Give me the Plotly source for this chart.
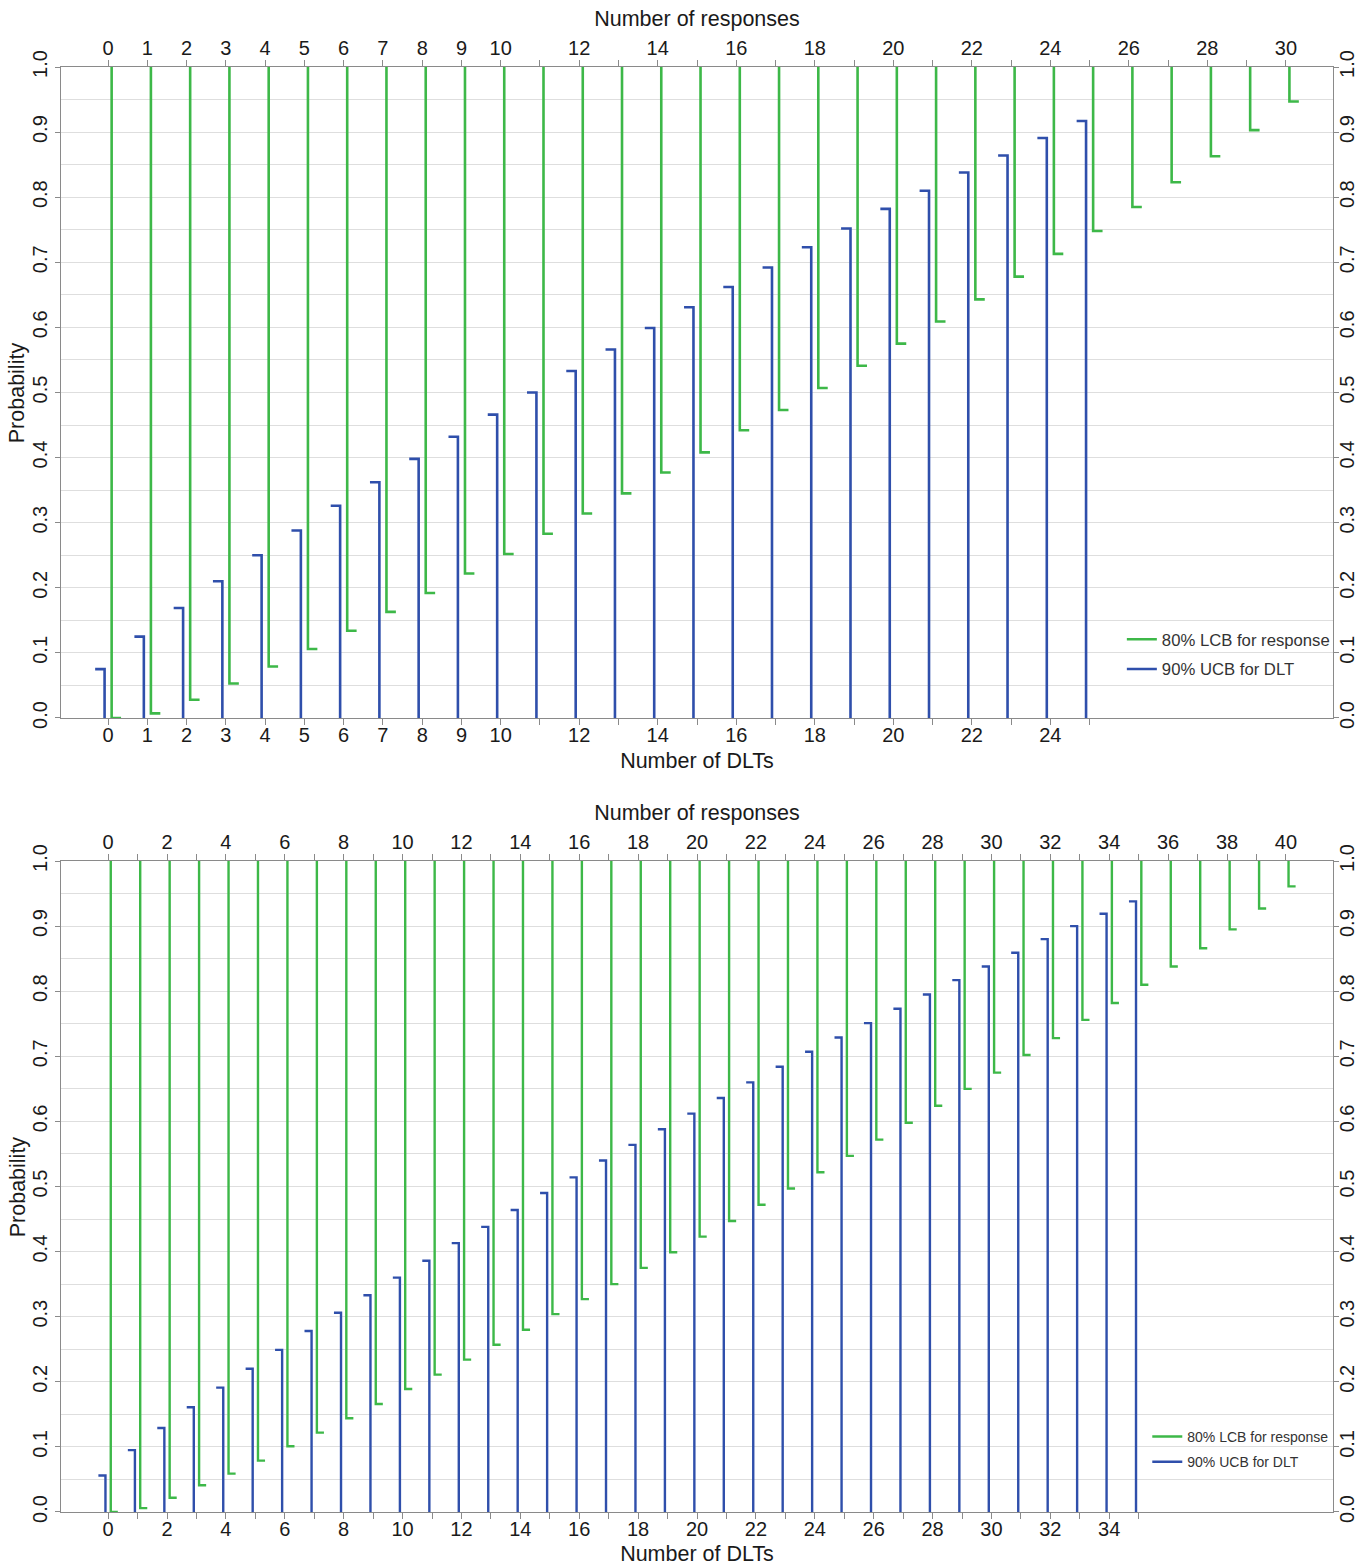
import plotly.graph_objects as go

# ---------------- data ----------------
# Panel 1: n = 30
dlt_counts_1 = list(range(0, 26))
ucb_dlt_1 = [0.075, 0.125, 0.169, 0.210, 0.250, 0.288, 0.326, 0.362, 0.398, 0.432,
             0.466, 0.500, 0.533, 0.566, 0.599, 0.631, 0.662, 0.692, 0.723, 0.752,
             0.782, 0.810, 0.838, 0.864, 0.891, 0.917]
resp_counts_1 = list(range(0, 31))
lcb_resp_1 = [0.000, 0.007, 0.028, 0.053, 0.079, 0.106, 0.134, 0.163, 0.192, 0.222,
              0.252, 0.283, 0.314, 0.345, 0.377, 0.408, 0.442, 0.473, 0.507, 0.541,
              0.575, 0.609, 0.643, 0.678, 0.713, 0.748, 0.785, 0.823, 0.863, 0.903,
              0.947]

# Panel 2: n = 40
dlt_counts_2 = list(range(0, 36))
ucb_dlt_2 = [0.056, 0.095, 0.129, 0.161, 0.191, 0.220, 0.249, 0.278, 0.306, 0.333,
             0.360, 0.386, 0.413, 0.438, 0.464, 0.490, 0.514, 0.540, 0.564, 0.588,
             0.612, 0.636, 0.660, 0.684, 0.707, 0.729, 0.751, 0.773, 0.795, 0.817,
             0.838, 0.859, 0.880, 0.900, 0.919, 0.938]
resp_counts_2 = list(range(0, 41))
lcb_resp_2 = [0.000, 0.006, 0.022, 0.041, 0.059, 0.079, 0.101, 0.122, 0.144, 0.166,
              0.189, 0.211, 0.234, 0.257, 0.280, 0.304, 0.327, 0.350, 0.375, 0.399,
              0.423, 0.447, 0.472, 0.497, 0.522, 0.547, 0.572, 0.598, 0.624, 0.650,
              0.675, 0.702, 0.728, 0.756, 0.782, 0.810, 0.838, 0.866, 0.895, 0.927,
              0.961]

# tick labels
dlt_ticktext_1 = ["0", "1", "2", "3", "4", "5", "6", "7", "8", "9", "10", "", "12", "",
                  "14", "", "16", "", "18", "", "20", "", "22", "", "24", ""]
resp_ticktext_1 = ["0", "1", "2", "3", "4", "5", "6", "7", "8", "9", "10", "", "12", "",
                   "14", "", "16", "", "18", "", "20", "", "22", "", "24", "", "26", "",
                   "28", "", "30"]
dlt_ticktext_2 = [str(i) if i % 2 == 0 else "" for i in range(0, 36)]
resp_ticktext_2 = [str(i) if i % 2 == 0 else "" for i in range(0, 41)]
y_ticks = [0.0, 0.1, 0.2, 0.3, 0.4, 0.5, 0.6, 0.7, 0.8, 0.9, 1.0]

legend_labels = ["80% LCB for response", "90% UCB for DLT"]

# ---------------- styling ----------------
GREEN = "#3db848"
BLUE = "#2f4fab"
AXIS = "#8a8a8a"
GRID = "#dedede"
FONT = "Liberation Sans, Arial, sans-serif"
OFF = 0.09   # horizontal offset of the stems from the integer position
CAP = 0.24   # length of the small horizontal cap


def ucb_path(xs, vals):
    px, py = [], []
    for x, v in zip(xs, vals):
        xl = x - OFF
        px += [xl - CAP, xl, xl, None]
        py += [v, v, 0.0, None]
    return px, py


def lcb_path(xs, vals):
    px, py = [], []
    for x, v in zip(xs, vals):
        xr = x + OFF
        px += [xr, xr, xr + CAP, None]
        py += [1.0, v, v, None]
    return px, py


fig = go.Figure()

# panel 1
gx, gy = lcb_path(resp_counts_1, lcb_resp_1)
bx, by = ucb_path(dlt_counts_1, ucb_dlt_1)
fig.add_trace(go.Scatter(x=gx, y=gy, mode="lines", name=legend_labels[0],
                         line=dict(color=GREEN, width=2.6), xaxis="x2", yaxis="y2",
                         legend="legend", legendgroup="g1"))
fig.add_trace(go.Scatter(x=bx, y=by, mode="lines", name=legend_labels[1],
                         line=dict(color=BLUE, width=2.6), xaxis="x", yaxis="y",
                         legend="legend", legendgroup="b1"))
# panel 2
gx2, gy2 = lcb_path(resp_counts_2, lcb_resp_2)
bx2, by2 = ucb_path(dlt_counts_2, ucb_dlt_2)
fig.add_trace(go.Scatter(x=gx2, y=gy2, mode="lines", name=legend_labels[0],
                         line=dict(color=GREEN, width=2.4), xaxis="x4", yaxis="y4",
                         legend="legend2", legendgroup="g2"))
fig.add_trace(go.Scatter(x=bx2, y=by2, mode="lines", name=legend_labels[1],
                         line=dict(color=BLUE, width=2.4), xaxis="x3", yaxis="y3",
                         legend="legend2", legendgroup="b2"))

TOP_DOM = [0.5495, 1.0]
BOT_DOM = [0.0, 0.4505]
tickfont = dict(family=FONT, size=20, color="#1a1a1a")
titlefont = dict(family=FONT, size=21.5, color="#1a1a1a")


def xax(rng, ticktext, title, side, anchor, overlaying=None):
    top = side == "top"
    d = dict(range=rng, tickmode="array", tickvals=list(range(len(ticktext))),
             ticktext=ticktext, ticks="outside", ticklen=6, tickwidth=1,
             tickcolor=AXIS, showline=True, linecolor=AXIS, linewidth=1,
             showgrid=False, zeroline=False, side=side, anchor=anchor,
             tickfont=tickfont, ticklabelstandoff=(-3 if top else -7),
             title=dict(text=title, font=titlefont, standoff=(4 if top else 7)),
             automargin=False, fixedrange=True)
    if overlaying:
        d["overlaying"] = overlaying
    return d


def yax(domain, side, anchor, overlaying=None, grid=True):
    d = dict(range=[0, 1], tickmode="array", tickvals=y_ticks,
             ticktext=[f"{v:.1f}" for v in y_ticks], tickangle=-90,
             ticks="outside", ticklen=5, tickcolor=AXIS, showline=True,
             linecolor=AXIS, linewidth=1, zeroline=False, side=side, anchor=anchor,
             showgrid=grid, gridcolor=GRID, gridwidth=1, tickfont=tickfont,
             ticklabelstandoff=(-9 if side == "right" else 0),
             automargin=False, fixedrange=True)
    if grid:
        d["minor"] = dict(tickmode="array",
                          tickvals=[0.05, 0.15, 0.25, 0.35, 0.45, 0.55, 0.65, 0.75, 0.85, 0.95],
                          showgrid=True, gridcolor=GRID, gridwidth=1, ticks="")
    if overlaying:
        d["overlaying"] = overlaying
    else:
        d["domain"] = domain
    return d


# y-axis titles ("Probability"), placed in the left margin
y_title = "Probability"
annotations = []
for dom in (TOP_DOM, BOT_DOM):
    annotations.append(dict(text=y_title, textangle=-90, showarrow=False,
                            xref="paper", yref="paper", x=-0.034, xanchor="center",
                            y=(dom[0] + dom[1]) / 2, yanchor="middle", font=titlefont))

fig.update_layout(
    width=1358, height=1566,
    margin=dict(l=61, r=25, t=67, b=54),
    paper_bgcolor="white", plot_bgcolor="white",
    font=dict(family=FONT, color="#1a1a1a"),
    xaxis=xax([-1.2, 31.2], dlt_ticktext_1, "Number of DLTs", "bottom", "y"),
    xaxis2=xax([-1.2, 31.2], resp_ticktext_1, "Number of responses", "top", "y", "x"),
    yaxis=yax(TOP_DOM, "left", "x"),
    yaxis2=yax(TOP_DOM, "right", "x", "y", grid=False),
    xaxis3=xax([-1.6, 41.6], dlt_ticktext_2, "Number of DLTs", "bottom", "y3"),
    xaxis4=xax([-1.6, 41.6], resp_ticktext_2, "Number of responses", "top", "y3", "x3"),
    yaxis3=yax(BOT_DOM, "left", "x3"),
    yaxis4=yax(BOT_DOM, "right", "x3", "y3", grid=False),
    annotations=annotations,
    legend=dict(x=0.834, y=0.616, xanchor="left", yanchor="top",
                bgcolor="rgba(0,0,0,0)", font=dict(family=FONT, size=16.7, color="#333333"),
                traceorder="grouped", tracegroupgap=5),
    legend2=dict(x=0.854, y=0.063, xanchor="left", yanchor="top",
                 bgcolor="rgba(0,0,0,0)", font=dict(family=FONT, size=14, color="#333333"),
                 traceorder="grouped", tracegroupgap=4),
    showlegend=True,
)

fig.write_html("out.html",
               config={"displayModeBar": False},
               post_script="document.body.style.margin='0';document.body.style.overflow='hidden';")
